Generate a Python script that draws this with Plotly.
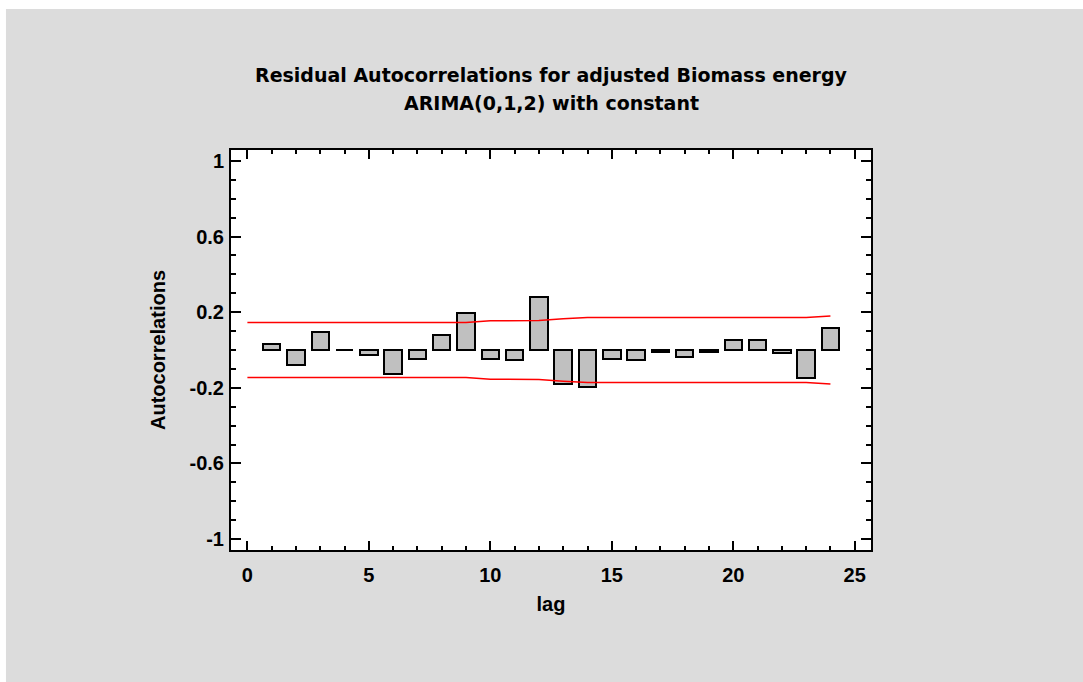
import plotly.graph_objects as go

# ---- data ----
lags = list(range(1, 25))
autocorr = [0.030, -0.080, 0.093, 0.002, -0.028, -0.126, -0.046, 0.082,
            0.196, -0.046, -0.055, 0.279, -0.179, -0.197, -0.046, -0.055,
            -0.010, -0.037, -0.010, 0.054, 0.054, -0.018, -0.146, 0.116]

limit_lags = list(range(0, 25))
upper_limit = [0.1455, 0.1455, 0.1455, 0.1455, 0.1455, 0.1455, 0.1455, 0.1455,
               0.1455, 0.1455, 0.1545, 0.155, 0.156, 0.165, 0.172, 0.172,
               0.172, 0.172, 0.172, 0.172, 0.172, 0.172, 0.172, 0.172, 0.180]
lower_limit = [-0.1455, -0.1455, -0.1455, -0.1455, -0.1455, -0.1455, -0.1455, -0.1455,
               -0.1455, -0.1455, -0.1545, -0.155, -0.156, -0.165, -0.172, -0.172,
               -0.172, -0.172, -0.172, -0.172, -0.172, -0.172, -0.172, -0.172, -0.180]

x_ticks = [0, 5, 10, 15, 20, 25]
x_ticktext = ["0", "5", "10", "15", "20", "25"]
y_ticks = [1, 0.6, 0.2, -0.2, -0.6, -1]
y_ticktext = ["1", "0.6", "0.2", "-0.2", "-0.6", "-1"]

title_line1 = "Residual Autocorrelations for adjusted Biomass energy"
title_line2 = "ARIMA(0,1,2) with constant"
x_title = "lag"
y_title = "Autocorrelations"

# ---- figure ----
axis_font = dict(family="Liberation Sans, Arial, sans-serif", size=20, color="black", weight="bold")
title_font = dict(family="DejaVu Sans, sans-serif", size=19, color="black", weight="bold")

fig = go.Figure()
fig.add_trace(go.Bar(
    x=lags, y=autocorr, width=0.72,
    marker=dict(color="#C0C0C0", line=dict(color="black", width=2)),
    showlegend=False, hoverinfo="x+y",
))
fig.add_trace(go.Scatter(
    x=limit_lags, y=upper_limit, mode="lines",
    line=dict(color="#FF0000", width=1.5), showlegend=False,
))
fig.add_trace(go.Scatter(
    x=limit_lags, y=lower_limit, mode="lines",
    line=dict(color="#FF0000", width=1.5), showlegend=False,
))

# plot area spans page pixels x 231..871, y 150..550
fig.update_layout(
    width=1083, height=682,
    margin=dict(l=231, r=212, t=150, b=132),
    paper_bgcolor="#DCDCDC",
    plot_bgcolor="white",
    bargap=0,
    shapes=[
        # thin white border strips at the left and top of the picture
        dict(type="rect", xref="paper", yref="paper", x0=-0.40, x1=-0.3516, y0=-0.5, y1=1.5,
             fillcolor="white", line=dict(width=0), layer="below"),
        dict(type="rect", xref="paper", yref="paper", x0=-0.5, x1=1.5, y0=1.3525, y1=1.45,
             fillcolor="white", line=dict(width=0), layer="below"),
    ],
    annotations=[
        dict(text=title_line1, xref="paper", yref="paper", x=0.5, y=1.1875,
             xanchor="center", yanchor="middle", showarrow=False, font=title_font),
        dict(text=title_line2, xref="paper", yref="paper", x=0.5, y=1.117,
             xanchor="center", yanchor="middle", showarrow=False, font=title_font),
    ],
)

fig.update_xaxes(
    range=[-0.675, 25.67],
    tickvals=x_ticks, ticktext=x_ticktext,
    ticks="inside", ticklen=9, tickwidth=2, tickcolor="black",
    minor=dict(dtick=1, tick0=0, ticks="inside", ticklen=4, tickwidth=1.5, tickcolor="black"),
    showline=True, linecolor="black", linewidth=2, mirror="ticks",
    showgrid=False, zeroline=False,
    tickfont=axis_font, ticklabelstandoff=6,
    title=dict(text=x_title, font=axis_font, standoff=12),
)
fig.update_yaxes(
    range=[-1.058, 1.058],
    tickvals=y_ticks, ticktext=y_ticktext,
    ticks="inside", ticklen=10, tickwidth=2, tickcolor="black",
    minor=dict(dtick=0.1, tick0=0, ticks="inside", ticklen=5, tickwidth=1.5, tickcolor="black"),
    showline=True, linecolor="black", linewidth=2, mirror="ticks",
    showgrid=False, zeroline=False,
    tickfont=axis_font, ticklabelstandoff=1,
    title=dict(text=y_title, font=axis_font, standoff=19),
)

fig.write_html(
    "out.html",
    config={"displayModeBar": False},
    post_script="document.body.style.margin='0';document.body.style.overflow='hidden';",
)
